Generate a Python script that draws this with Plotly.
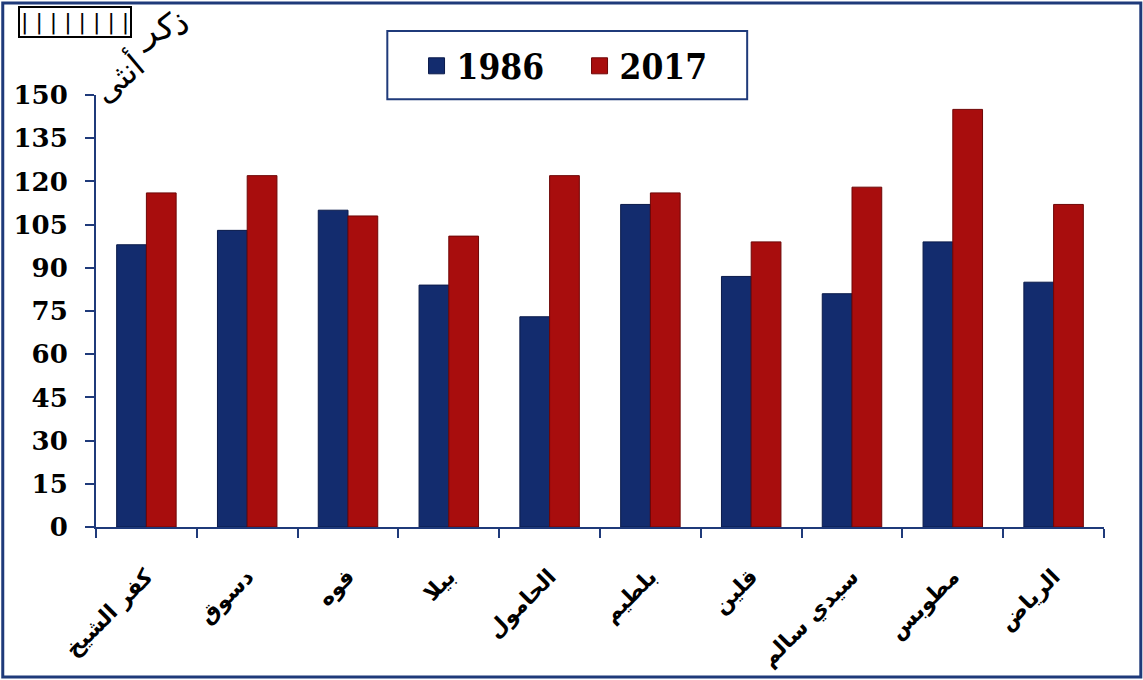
import plotly.graph_objects as go

categories = ["كفر الشيخ", "دسوق", "فوه", "بيلا", "الحامول", "بلطيم", "قلين", "سيدي سالم", "مطوبس", "الرياض"]
values_1986 = [98, 103, 110, 84, 73, 112, 87, 81, 99, 85]
values_2017 = [116, 122, 108, 101, 122, 116, 99, 118, 145, 112]
series_names = ["1986", "2017"]
y_ticks = [0, 15, 30, 45, 60, 75, 90, 105, 120, 135, 150]

navy = "#132C6E"
red = "#A80D0D"
axis_col = "#1F3A7A"

fig = go.Figure()
fig.add_trace(go.Bar(x=categories, y=values_1986, name=series_names[0], showlegend=False,
                     marker=dict(color=navy, line=dict(color="#0A1A4A", width=1))))
fig.add_trace(go.Bar(x=categories, y=values_2017, name=series_names[1], showlegend=False,
                     marker=dict(color=red, line=dict(color="#6E0606", width=1))))
# legend entries with larger square symbols
fig.add_trace(go.Scatter(x=[None], y=[None], mode="markers", name=series_names[0],
                         marker=dict(symbol="square", size=18, color=navy,
                                     line=dict(color="#0A1A4A", width=1))))
fig.add_trace(go.Scatter(x=[None], y=[None], mode="markers", name=series_names[1],
                         marker=dict(symbol="square", size=18, color=red,
                                     line=dict(color="#6E0606", width=1))))

fig.update_layout(
    width=1143, height=680,
    paper_bgcolor="white", plot_bgcolor="white",
    margin=dict(l=96, r=39, t=95, b=153, autoexpand=False),
    barmode="group", bargap=0.41, bargroupgap=0,
    showlegend=True,
    legend=dict(orientation="h", x=0.318, xanchor="left", y=1.067, yanchor="middle",
                borderwidth=0, bgcolor="rgba(0,0,0,0)", itemsizing="trace",
                font=dict(family="DejaVu Serif Condensed", size=35, color="black", weight="bold"),
                itemwidth=30, entrywidth=118, entrywidthmode="pixels"),
    xaxis=dict(showline=True, linecolor=axis_col, linewidth=2,
               ticks="outside", tickcolor=axis_col, ticklen=9, tickwidth=2,
               tickson="boundaries", tickangle=-45, ticklabelstandoff=26,
               tickfont=dict(family="DejaVu Sans", size=22, color="black", weight="bold"),
               showgrid=False),
    yaxis=dict(range=[0, 150], tickvals=y_ticks, showline=True, linecolor=axis_col, linewidth=2,
               ticks="outside", tickcolor=axis_col, ticklen=9, tickwidth=2, ticklabelstandoff=12,
               tickfont=dict(family="DejaVu Serif", size=26, color="black", weight="bold"),
               showgrid=False, zeroline=False),
    shapes=[
        dict(type="rect", xref="paper", yref="paper", x0=-0.0925, x1=1.0365,
             y0=-0.347, y1=1.213, line=dict(color=axis_col, width=3)),
        dict(type="rect", xref="paper", yref="paper", x0=0.289, x1=0.646,
             y0=0.99, y1=1.148, line=dict(color=axis_col, width=2)),
    ],
    annotations=[
        dict(text="| | | | | | | |", xref="paper", yref="paper", x=-0.021, y=1.169,
             xanchor="center", yanchor="middle", showarrow=False,
             bordercolor="black", borderwidth=2, borderpad=1,
             font=dict(family="DejaVu Sans", size=22, color="black")),
        dict(text="ذكر", xref="paper", yref="paper", x=0.066, y=1.157,
             xanchor="center", yanchor="middle", showarrow=False,
             textangle=-15, font=dict(family="DejaVu Sans", size=34, color="black")),
        dict(text="أنثى", xref="paper", yref="paper", x=0.022, y=1.04,
             xanchor="center", yanchor="middle", showarrow=False,
             textangle=-40, font=dict(family="DejaVu Sans", size=32, color="black")),
    ],
)
fig.write_html("out.html", config={"displayModeBar": False},
               post_script="document.body.style.margin='0';")
